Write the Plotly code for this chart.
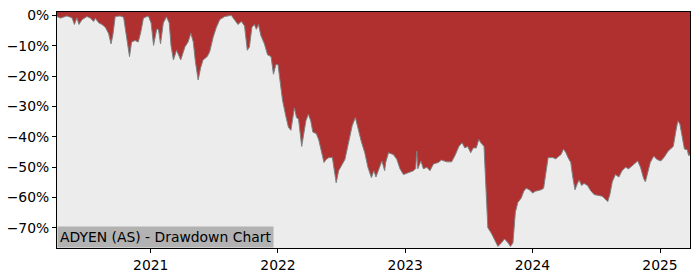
import pandas as pd
import plotly.graph_objects as go

dates = [
    "2020-04-07", "2020-04-17", "2020-05-05", "2020-05-20", "2020-05-27", "2020-06-03", "2020-06-09",
    "2020-06-18", "2020-07-02", "2020-07-12", "2020-07-21", "2020-07-26", "2020-08-05", "2020-08-14",
    "2020-08-24", "2020-09-02", "2020-09-09", "2020-09-14", "2020-09-21", "2020-10-05", "2020-10-15",
    "2020-10-22", "2020-11-01", "2020-11-07", "2020-11-17", "2020-11-26", "2020-12-03", "2020-12-11",
    "2020-12-25",
    "2021-01-02", "2021-01-09", "2021-01-18", "2021-01-23", "2021-01-29", "2021-02-06", "2021-02-15",
    "2021-02-23", "2021-02-28", "2021-03-07", "2021-03-16", "2021-03-28", "2021-04-09", "2021-04-18",
    "2021-04-26", "2021-05-03", "2021-05-09", "2021-05-17", "2021-05-24", "2021-05-31", "2021-06-12",
    "2021-06-19", "2021-06-29", "2021-07-08", "2021-07-18", "2021-08-01", "2021-08-20", "2021-08-30",
    "2021-09-08", "2021-09-18", "2021-09-27", "2021-10-05", "2021-10-11", "2021-10-18", "2021-10-25",
    "2021-10-31", "2021-11-06", "2021-11-13", "2021-11-23", "2021-12-02", "2021-12-12", "2021-12-19",
    "2021-12-26",
    "2022-01-01", "2022-01-07", "2022-01-14", "2022-01-24", "2022-01-31", "2022-02-07", "2022-02-17",
    "2022-02-23", "2022-03-01", "2022-03-10", "2022-03-17", "2022-03-22", "2022-03-29", "2022-04-05",
    "2022-04-11", "2022-04-21", "2022-04-28", "2022-05-06", "2022-05-13", "2022-05-19", "2022-05-27",
    "2022-06-06", "2022-06-11", "2022-06-17", "2022-06-24", "2022-07-04", "2022-07-12", "2022-07-21",
    "2022-08-02", "2022-08-11", "2022-08-19", "2022-08-28", "2022-09-07", "2022-09-16", "2022-09-26",
    "2022-10-03", "2022-10-09", "2022-10-17", "2022-10-26", "2022-11-03", "2022-11-06", "2022-11-14",
    "2022-11-28", "2022-12-08", "2022-12-17", "2022-12-27",
    "2023-01-11", "2023-01-25", "2023-01-31", "2023-02-03", "2023-02-06", "2023-02-15", "2023-02-22",
    "2023-03-04", "2023-03-13", "2023-03-23", "2023-04-06", "2023-04-15", "2023-04-30", "2023-05-14",
    "2023-05-23", "2023-06-04", "2023-06-13", "2023-06-21", "2023-06-29", "2023-07-08", "2023-07-15",
    "2023-07-24", "2023-07-31", "2023-08-07", "2023-08-15", "2023-08-19", "2023-08-22", "2023-08-26",
    "2023-09-05", "2023-09-15", "2023-09-24", "2023-10-04", "2023-10-13", "2023-10-23", "2023-10-30",
    "2023-11-06", "2023-11-13", "2023-11-20", "2023-11-30", "2023-12-07", "2023-12-14", "2023-12-23",
    "2024-01-02", "2024-01-09", "2024-01-16", "2024-01-26", "2024-02-02", "2024-02-09", "2024-02-15",
    "2024-02-28", "2024-03-08", "2024-03-15", "2024-03-23", "2024-03-30", "2024-04-06", "2024-04-12",
    "2024-04-20", "2024-04-25", "2024-05-02", "2024-05-09", "2024-05-14", "2024-05-21", "2024-05-28",
    "2024-06-07", "2024-06-16", "2024-06-26", "2024-07-10", "2024-07-19", "2024-07-29", "2024-08-04",
    "2024-08-10", "2024-08-17", "2024-08-26", "2024-09-05", "2024-09-14", "2024-09-24", "2024-10-03",
    "2024-10-13", "2024-10-22", "2024-10-29", "2024-11-06", "2024-11-15", "2024-11-20", "2024-11-25",
    "2024-12-04", "2024-12-14", "2024-12-23",
    "2025-01-03", "2025-01-12", "2025-01-24", "2025-02-02", "2025-02-08", "2025-02-15", "2025-02-21",
    "2025-02-27", "2025-03-06", "2025-03-12", "2025-03-20", "2025-03-24", "2025-03-28",
]

drawdown = [
    -0.4, -0.9, -0.2, -0.8, -3.0, -0.8, -3.0,
    -1.4, -0.4, -0.9, -2.0, -1.0, -2.5, -3.0,
    -4.0, -6.0, -9.4, -6.7, -0.4, -0.2, -0.6,
    -6.7, -13.6, -8.8, -8.3, -8.8, -5.7, -0.9,
    -0.2,
    -2.5, -9.9, -4.6, -4.6, -9.4, -2.5, -0.5,
    -2.5, -9.9, -14.7, -11.5, -14.7, -10.4, -8.8,
    -5.9, -8.8, -15.2, -21.3, -17.3, -14.7, -13.6,
    -12.0, -7.2, -4.0, -1.4, -0.4, 0.0, -1.4,
    -3.0, -2.0, -3.5, -11.5, -10.4, -4.0, -3.0,
    -4.6, -3.0, -6.7, -9.4, -13.0, -13.6, -19.4,
    -16.2,
    -16.2, -22.6, -28.0, -33.5, -36.9, -37.9, -30.5,
    -33.7, -34.2, -43.2, -37.9, -34.8, -32.6, -34.8,
    -38.5, -39.0, -41.1, -44.8, -48.5, -47.5, -46.9,
    -46.9, -50.1, -55.2, -51.2, -49.0, -47.5, -42.7,
    -36.3, -33.7, -37.9, -41.6, -45.3, -50.1, -53.5,
    -51.2, -53.3, -50.6, -48.0, -51.2, -48.5, -45.3,
    -45.9, -47.5, -50.6, -52.5,
    -51.9, -51.2, -50.5, -44.8, -50.6, -48.0, -50.6,
    -50.1, -51.2, -49.0, -48.5, -47.7, -48.3, -48.3,
    -46.4, -43.2, -42.0, -43.7, -43.2, -45.3, -43.7,
    -43.7, -40.9, -42.2, -43.2, -52.0, -60.2, -70.0,
    -71.8, -73.9, -76.2, -75.0, -73.7, -75.0, -76.2,
    -75.0, -64.9, -61.7, -60.2, -58.0, -57.0, -57.5,
    -58.6, -58.0, -57.8, -57.5, -57.0, -50.6, -46.9,
    -46.9, -47.3, -46.6, -45.9, -44.1, -45.3, -46.9,
    -48.5, -52.8, -57.5, -55.4, -54.3, -56.1, -55.4,
    -56.1, -57.8, -59.1, -59.3, -59.6, -60.7, -61.4,
    -59.1, -54.9, -52.5, -53.3, -51.2, -50.1, -50.6,
    -49.6, -48.5, -48.0, -50.1, -53.8, -54.9, -52.2,
    -48.5, -46.4, -47.5,
    -48.0, -46.9, -44.8, -43.7, -43.2, -38.5, -34.8,
    -35.8, -40.1, -44.1, -44.3, -46.2, -46.0,
]

y_ticks = [0, -10, -20, -30, -40, -50, -60, -70]
y_tick_labels = ["0%", "\u221210%", "\u221220%", "\u221230%", "\u221240%", "\u221250%", "\u221260%", "\u221270%"]
x_ticks = ["2021-01-01", "2022-01-01", "2023-01-01", "2024-01-01", "2025-01-01"]
x_tick_labels = ["2021", "2022", "2023", "2024", "2025"]
title_text = "ADYEN (AS) - Drawdown Chart"

Y_MIN, Y_MAX = -76.7, 1.1

x = pd.to_datetime(dates)

fig = go.Figure()
# upper boundary of the filled area (top of the axis)
fig.add_trace(go.Scatter(
    x=x, y=[Y_MAX] * len(x), mode="lines", line=dict(width=0, color="rgba(0,0,0,0)"),
    hoverinfo="skip", showlegend=False,
))
fig.add_trace(go.Scatter(
    x=x, y=drawdown, mode="lines", fill="tonexty",
    fillcolor="rgb(176,48,48)", line=dict(color="rgb(128,128,128)", width=1),
    showlegend=False,
))

font = dict(family="DejaVu Sans", size=13.9, color="black")

fig.update_layout(
    width=700, height=280,
    margin=dict(l=53, r=10, t=7, b=28),
    paper_bgcolor="white",
    plot_bgcolor="rgb(236,236,236)",
    font=font,
    showlegend=False,
    xaxis=dict(
        range=[x.min(), x.max()],
        tickvals=pd.to_datetime(x_ticks), ticktext=x_tick_labels,
        showgrid=False, zeroline=False,
        showline=True, linecolor="black", linewidth=1, mirror=True,
        ticks="outside", ticklen=4, tickcolor="black", tickwidth=1,
        tickfont=font,
    ),
    yaxis=dict(
        range=[Y_MIN, Y_MAX],
        tickvals=y_ticks, ticktext=y_tick_labels,
        showgrid=False, zeroline=False,
        showline=True, linecolor="black", linewidth=1, mirror=True,
        ticks="outside", ticklen=4, tickcolor="black", tickwidth=1,
        tickfont=font,
    ),
    annotations=[dict(
        text=title_text, xref="paper", yref="paper", x=0, y=0,
        xanchor="left", yanchor="bottom", showarrow=False,
        bgcolor="rgb(178,178,178)", borderpad=2, font=font,
    )],
)

fig.write_html("out.html")
